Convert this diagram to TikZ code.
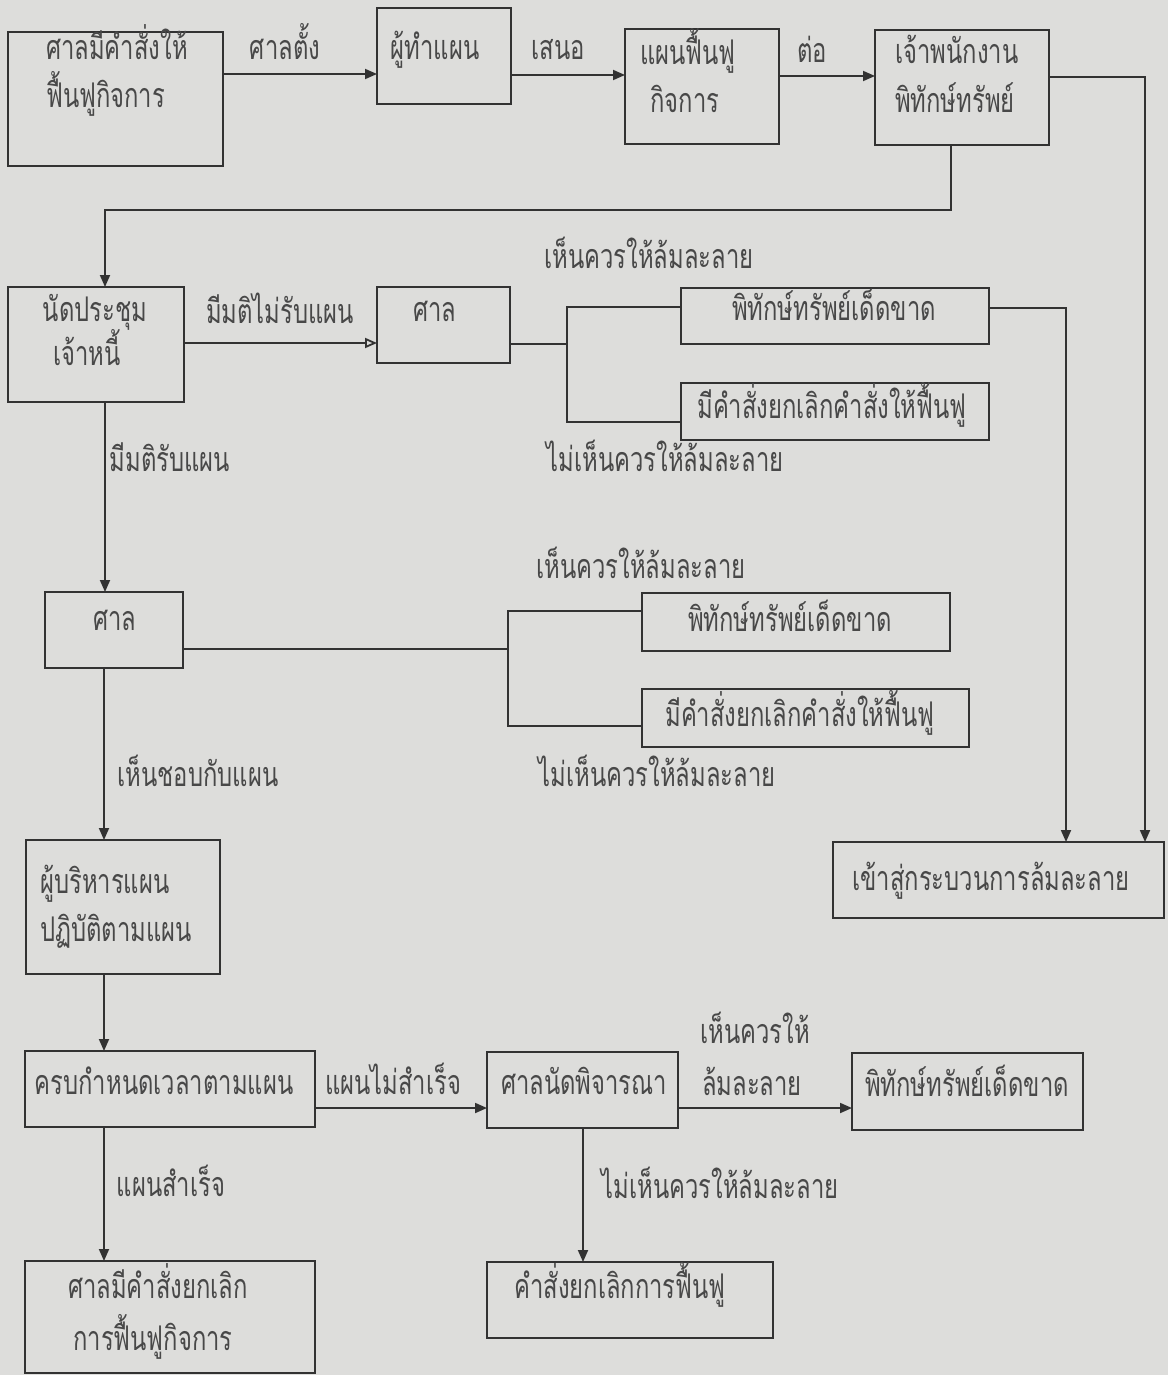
\documentclass[tikz,border=0pt]{standalone}
\usepackage{fontspec}
\newfontfamily\thai[Script=Thai,FakeStretch=0.70]{Loma}
\usetikzlibrary{arrows.meta}
\definecolor{bg}{RGB}{221,221,219}
\definecolor{ink}{RGB}{50,50,50}
\definecolor{txt}{RGB}{72,72,72}
\tikzset{
  box/.style={draw=ink, line width=1.8pt, rectangle, inner sep=0pt, outer sep=0pt},
  t/.style={font=\thai\fontsize{34}{36}\selectfont, text=txt, inner sep=0pt, anchor=base, yshift=-8pt, text height=0.55em, text depth=0.1em},
  ln/.style={draw=ink, line width=1.8pt},
  arr/.style={ln, -{Triangle[length=12pt,width=10pt]}},
  oarr/.style={ln, -{Triangle[open,length=12pt,width=10pt]}},
}
\newcommand\mybox[5]{\node[box, anchor=north west, minimum width={(#4-#2)*1pt}, minimum height={(#5-#3)*1pt}] (#1) at (#2,#3) {};}
\begin{document}
\begin{tikzpicture}[x=1pt,y=-1pt]
\fill[bg] (0,0) rectangle (1168,1375);
\useasboundingbox (0,0) rectangle (1168,1375);
% boxes
\mybox{A}{8}{32}{223}{166}
\mybox{B}{377}{8}{511}{104}
\mybox{C}{625}{29}{779}{144}
\mybox{D}{875}{30}{1049}{145}
\mybox{E}{8}{287}{184}{402}
\mybox{F}{377}{287}{510}{363}
\mybox{G}{681}{288}{989}{344}
\mybox{H}{681}{383}{989}{440}
\mybox{I}{45}{592}{183}{668}
\mybox{J}{642}{593}{950}{651}
\mybox{K}{642}{689}{969}{747}
\mybox{L}{26}{840}{220}{974}
\mybox{Q}{833}{842}{1164}{918}
\mybox{M}{25}{1051}{315}{1127}
\mybox{N}{487}{1052}{678}{1128}
\mybox{O}{852}{1053}{1083}{1130}
\mybox{P}{25}{1261}{315}{1373}
\mybox{R}{487}{1262}{773}{1338}
% box texts
\node[t, anchor=base west] (tA1) at (46,52) {ศาลมีคำสั่งให้};
\node[t, anchor=base west] (tA2) at (46,100) {ฟื้นฟูกิจการ};
\node[t] (tB) at (435,52) {ผู้ทำแผน};
\node[t] (tC1) at (688,57) {แผนฟื้นฟู};
\node[t] (tC2) at (685,105) {กิจการ};
\node[t] (tD1) at (957,56) {เจ้าพนักงาน};
\node[t] (tD2) at (955,105) {พิทักษ์ทรัพย์};
\node[t] (tE1) at (95,313) {นัดประชุม};
\node[t] (tE2) at (87,357) {เจ้าหนี้};
\node[t] (tF) at (435,313) {ศาล};
\node[t] (tG) at (834,312) {พิทักษ์ทรัพย์เด็ดขาด};
\node[t] (tH) at (832,410) {มีคำสั่งยกเลิกคำสั่งให้ฟื้นฟู};
\node[t] (tI) at (115,622) {ศาล};
\node[t] (tJ) at (790,623) {พิทักษ์ทรัพย์เด็ดขาด};
\node[t] (tK) at (800,718) {มีคำสั่งยกเลิกคำสั่งให้ฟื้นฟู};
\node[t, anchor=base west] (tL1) at (40,885) {ผู้บริหารแผน};
\node[t, anchor=base west] (tL2) at (40,933) {ปฏิบัติตามแผน};
\node[t] (tQ) at (991,882) {เข้าสู่กระบวนการล้มละลาย};
\node[t] (tM) at (164,1086) {ครบกำหนดเวลาตามแผน};
\node[t] (tN) at (584,1086) {ศาลนัดพิจารณา};
\node[t] (tO) at (967,1088) {พิทักษ์ทรัพย์เด็ดขาด};
\node[t] (tP1) at (158,1290) {ศาลมีคำสั่งยกเลิก};
\node[t] (tP2) at (153,1342) {การฟื้นฟูกิจการ};
\node[t] (tR) at (620,1290) {คำสั่งยกเลิกการฟื้นฟู};
% connector labels
\node[t] (l1) at (285,52) {ศาลตั้ง};
\node[t] (l2) at (558,52) {เสนอ};
\node[t] (l3) at (812,55) {ต่อ};
\node[t] (l4) at (280,315) {มีมติไม่รับแผน};
\node[t] (l5) at (649,260) {เห็นควรให้ล้มละลาย};
\node[t] (l6) at (665,463) {ไม่เห็นควรให้ล้มละลาย};
\node[t] (l7) at (170,463) {มีมติรับแผน};
\node[t] (l8) at (641,570) {เห็นควรให้ล้มละลาย};
\node[t] (l9) at (657,778) {ไม่เห็นควรให้ล้มละลาย};
\node[t] (l10) at (198,778) {เห็นชอบกับแผน};
\node[t] (l11) at (393,1086) {แผนไม่สำเร็จ};
\node[t] (l12) at (755,1035) {เห็นควรให้};
\node[t] (l13) at (752,1087) {ล้มละลาย};
\node[t] (l14) at (171,1188) {แผนสำเร็จ};
\node[t] (l15) at (720,1190) {ไม่เห็นควรให้ล้มละลาย};
% connectors
\draw[arr] (A.east |- 0,74) -- (B.west |- 0,74);
\draw[arr] (B.east |- 0,75) -- (C.west |- 0,75);
\draw[arr] (C.east |- 0,76) -- (D.west |- 0,76);
\draw[arr] (D.east |- 0,77) -| (Q.north -| 1145,0);
\draw[arr] (D.south -| 951,0) -- (951,210) -| (E.north -| 105,0);
\draw[oarr] (E.east |- 0,343) -- (F.west |- 0,343);
\coordinate (fb) at (567,344);
\draw[ln] (F.east |- fb) -- (fb);
\draw[ln] (G.west |- 0,307) -| (fb |- 0,422) -- (H.west |- 0,422);
\draw[arr] (G.east |- 0,308) -| (Q.north -| 1066,0);
\draw[arr] (E.south -| 105,0) -- (I.north -| 105,0);
\coordinate (ib) at (508,649);
\draw[ln] (I.east |- ib) -- (ib);
\draw[ln] (J.west |- 0,611) -| (ib |- 0,726) -- (K.west |- 0,726);
\draw[arr] (I.south -| 104,0) -- (L.north -| 104,0);
\draw[arr] (L.south -| 104,0) -- (M.north -| 104,0);
\draw[arr] (M.east |- 0,1108) -- (N.west |- 0,1108);
\draw[arr] (N.east |- 0,1108) -- (O.west |- 0,1108);
\draw[arr] (M.south -| 104,0) -- (P.north -| 104,0);
\draw[arr] (N.south -| 583,0) -- (R.north -| 583,0);
\end{tikzpicture}
\end{document}
